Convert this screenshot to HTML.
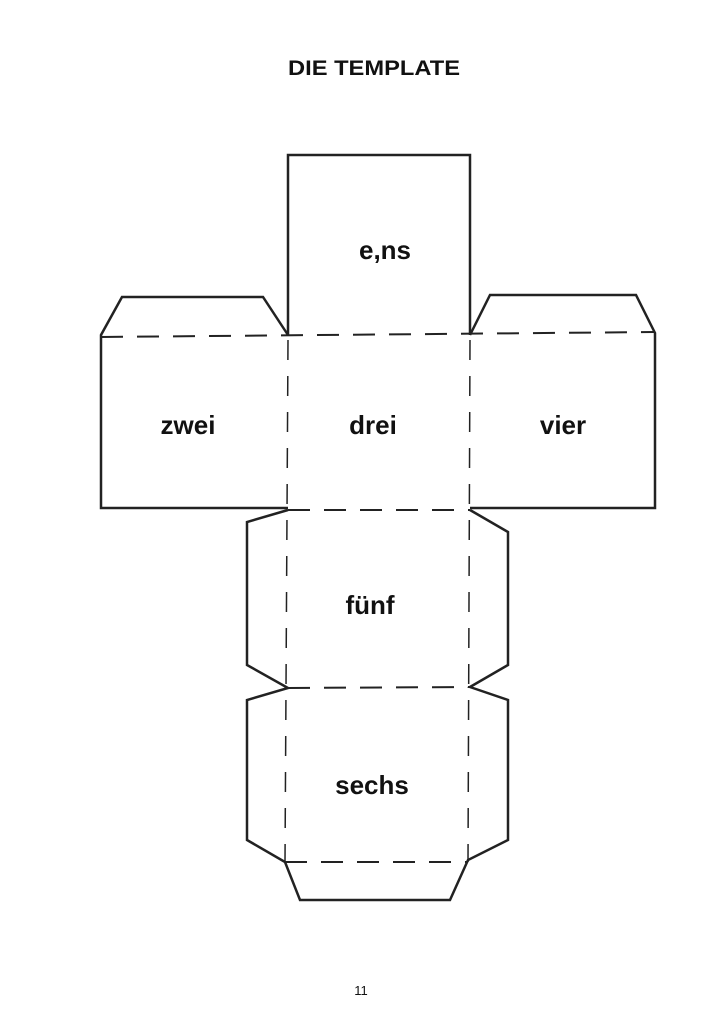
<!DOCTYPE html>
<html><head><meta charset="utf-8"><style>
body{margin:0;background:#fff;}
svg{display:block}
text{font-family:"Liberation Sans",sans-serif;fill:#111}
</style></head><body>
<svg width="723" height="1024" viewBox="0 0 723 1024">
<text x="374" y="75" font-size="21" font-weight="bold" text-anchor="middle" textLength="172" lengthAdjust="spacingAndGlyphs">DIE TEMPLATE</text>
<g fill="none" stroke="#222" stroke-width="2.5" stroke-linejoin="miter">
<polyline points="288,335 288,155 470,155 470,335"/>
<polyline points="288,335 263,297 122,297 101,335 101,508 288,508"/>
<polyline points="470,335 490,295 636,295 655,333 655,508 470,508"/>
<polyline points="288,510 247,522 247,665 288,688 247,700 247,840 285,862 300,900 450,900 468,860 508,840 508,700 470,687 508,665 508,532 470,510"/>
</g>
<g fill="none" stroke="#222" stroke-width="2" stroke-dasharray="22,14">
<line x1="101" y1="337" x2="655" y2="332"/>
<line x1="288" y1="510" x2="470" y2="510"/>
<line x1="288" y1="688" x2="470" y2="687"/>
<line x1="285" y1="862" x2="468" y2="862"/>
</g>
<g fill="none" stroke="#222" stroke-width="1.5" stroke-dasharray="20,16">
<line x1="288" y1="340" x2="285" y2="862"/>
<line x1="470" y1="340" x2="468" y2="862"/>
</g>
<g font-size="26" font-weight="bold" text-anchor="middle">
<text x="385" y="259">e,ns</text>
<text x="188" y="434">zwei</text>
<text x="373" y="434">drei</text>
<text x="563" y="434">vier</text>
<text x="370" y="614">fünf</text>
<text x="372" y="794">sechs</text>
</g>
<text x="361" y="995" font-size="13" text-anchor="middle">11</text>
</svg>
</body></html>
